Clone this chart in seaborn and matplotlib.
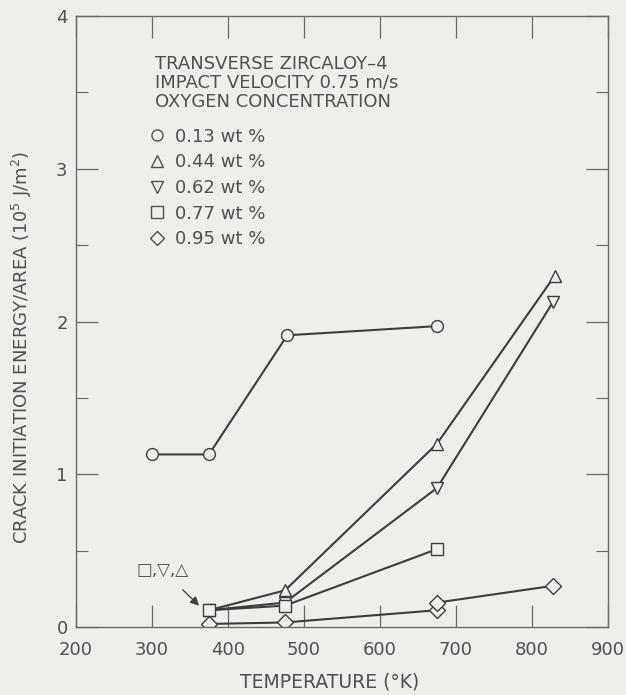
import matplotlib
matplotlib.use("Agg")
import matplotlib.pyplot as plt
import seaborn as sns
import pandas as pd
from matplotlib.lines import Line2D

# Crack initiation energy per unit area (1e5 J/m^2) vs test temperature (K)
temp_013 = [300, 375, 478, 675]
energy_013 = [1.13, 1.13, 1.91, 1.97]

temp_044 = [375, 475, 675, 830]
energy_044 = [0.11, 0.24, 1.20, 2.30]

temp_062 = [375, 475, 675, 828]
energy_062 = [0.11, 0.16, 0.91, 2.13]

temp_077 = [375, 475, 675]
energy_077 = [0.11, 0.14, 0.51]

temp_095 = [375, 475, 675, 675, 828]
energy_095 = [0.02, 0.03, 0.11, 0.16, 0.27]

series_labels = ["0.13 wt %", "0.44 wt %", "0.62 wt %", "0.77 wt %", "0.95 wt %"]
series_markers = ["o", "^", "v", "s", "D"]

x_ticks = [200, 300, 400, 500, 600, 700, 800, 900]
y_ticks = [0, 1, 2, 3, 4]

bg = "#eeeeeb"
ink = "#3d3d3d"
text_ink = "#505050"

sns.set_theme(style="ticks")
plt.rcParams["font.family"] = ["DejaVu Sans"]

fig = plt.figure(figsize=(6.26, 6.95), dpi=100, facecolor=bg)
ax = fig.add_axes([0.1214, 0.0978, 0.8498, 0.8791])
ax.set_facecolor(bg)

marker_size = {"o": 8.5, "^": 8.5, "v": 8.5, "s": 8.5, "D": 7.8}

series = [
    (temp_013, energy_013),
    (temp_044, energy_044),
    (temp_062, energy_062),
    (temp_077, energy_077),
    (temp_095, energy_095),
]
for (tx, ey), mk in zip(series, series_markers):
    df = pd.DataFrame({"T": tx, "E": ey})
    sns.lineplot(data=df, x="T", y="E", ax=ax, sort=False, estimator=None,
                 color=ink, lw=1.5, marker=mk, markersize=marker_size[mk],
                 markerfacecolor=bg, markeredgecolor=ink, markeredgewidth=1.0,
                 legend=False)

ax.set_xlim(200, 900)
ax.set_ylim(0, 4)
ax.set_xticks(x_ticks)
ax.set_yticks(y_ticks)
ax.set_yticks([0.5, 1.5, 2.5, 3.5], minor=True)
ax.tick_params(axis="both", which="major", direction="in", length=16, width=0.9,
               color="#6a6a6a", labelsize=13, labelcolor=text_ink,
               top=True, right=True)
ax.tick_params(axis="y", which="minor", direction="in", length=8.5, width=0.8,
               color="#6a6a6a", left=True, right=True)
ax.tick_params(axis="x", which="minor", bottom=False, top=False)
ax.tick_params(axis="x", which="major", pad=10)
ax.tick_params(axis="y", which="major", pad=6)
for s in ax.spines.values():
    s.set_color("#6a6a6a")
    s.set_linewidth(1.0)

ax.set_xlabel("TEMPERATURE (°K)", fontsize=13.5, color=text_ink)
ax.set_ylabel("CRACK INITIATION ENERGY/AREA (10$^5$ J/m$^2$)", fontsize=13,
              color=text_ink)
ax.xaxis.set_label_coords(0.477, -0.074)
ax.yaxis.set_label_coords(-0.079, 0.458)

# Header text and symbol key
header = "TRANSVERSE ZIRCALOY\u20134\nIMPACT VELOCITY 0.75 m/s\nOXYGEN CONCENTRATION"
ax.text(0.148, 0.937, header, transform=ax.transAxes, fontsize=13,
        color=text_ink, va="top", ha="left", linespacing=1.08)

handles = [Line2D([], [], ls="none", marker=mk, markersize=marker_size[mk] - 0.5,
                  markerfacecolor=bg, markeredgecolor=text_ink, markeredgewidth=1.0)
           for mk in series_markers]
leg = ax.legend(handles, series_labels, loc="upper left",
                bbox_to_anchor=(0.125, 0.829), frameon=False, handlelength=0.8,
                handletextpad=0.6, labelspacing=0.42, fontsize=13,
                borderaxespad=0)
for t in leg.get_texts():
    t.set_color(text_ink)

ax.annotate("\u25a1,\u25bd,\u25b3", xy=(362, 0.14), xytext=(279, 0.375),
            fontsize=12, color=text_ink, va="center", ha="left",
            arrowprops=dict(arrowstyle="-|>", color=ink, lw=0.9,
                            mutation_scale=13, shrinkA=8, shrinkB=0))

fig.savefig("out.png", dpi=100, facecolor=bg)
